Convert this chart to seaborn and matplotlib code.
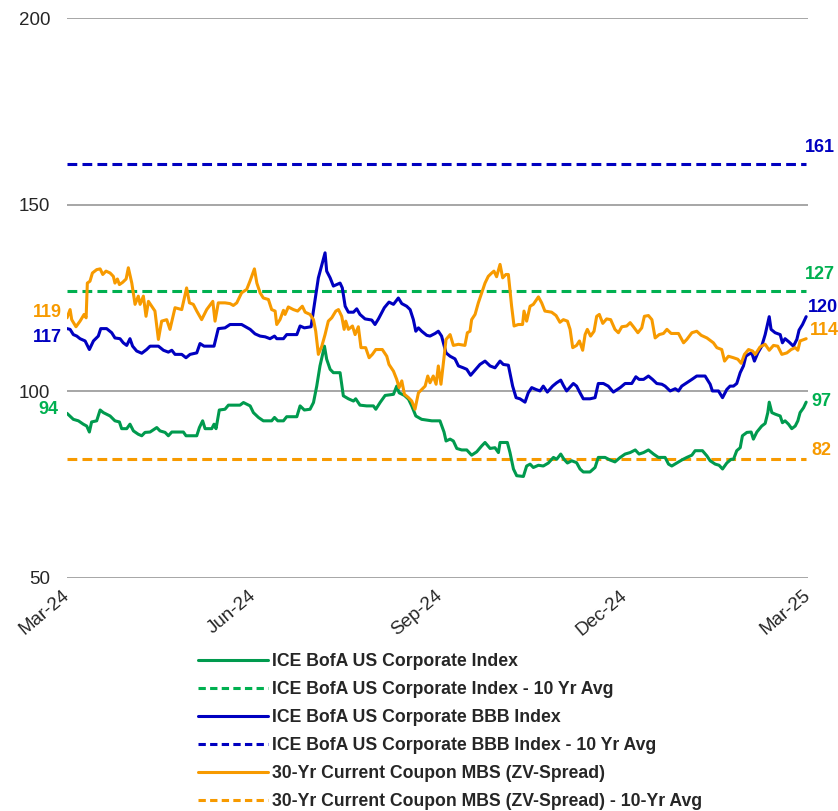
import pandas as pd
import numpy as np
import seaborn as sns
import matplotlib.pyplot as plt
import matplotlib.dates as mdates
from matplotlib.lines import Line2D

# Spread history (bp) as (days since 1-Mar-24, value)
corp_obs = [
    (0, 94.1), (3.1, 92.5), (5.6, 92.1), (8.0, 91.2), (9.7, 90.7), (11.0, 89.1), (12.1, 91.8), (14.6, 92.1), (16.3, 95.0), (17.9, 94.3),
    (21.2, 93.4), (23.6, 92.1), (25.8, 91.8), (26.9, 90.0), (29.4, 90.0), (31.0, 91.2), (32.7, 89.4), (35.1, 88.5), (36.8, 88.1), (38.4, 89.0),
    (40.9, 89.1), (44.2, 90.3), (45.8, 89.4), (48.3, 89.0), (49.9, 88.1), (51.6, 89.1), (57.3, 89.1), (58.6, 88.1), (63.9, 88.1), (65.2, 90.3),
    (66.8, 92.1), (68.0, 90.0), (71.3, 90.0), (72.4, 91.2), (73.4, 90.0), (75.0, 95.0), (77.8, 95.2), (79.5, 96.3), (85.2, 96.3), (86.9, 97.0),
    (90.2, 96.1), (91.8, 94.3), (94.3, 93.0), (96.7, 92.1), (100.8, 92.1), (102.2, 93.0), (103.8, 92.1), (106.6, 92.1), (108.2, 93.2), (113.2, 93.2),
    (114.8, 96.1), (116.9, 95.0), (119.7, 95.2), (121.4, 97.0), (123.0, 101.4), (124.6, 106.8), (126.8, 112.1), (127.9, 108.6), (129.6, 105.9), (131.2, 105.0),
    (134.5, 105.0), (136.1, 98.8), (138.6, 98.0), (141.1, 97.4), (142.2, 98.0), (144.3, 96.3), (147.6, 96.1), (150.9, 96.1), (152.1, 95.2), (154.2, 97.0),
    (156.7, 98.9), (160.8, 99.2), (162.4, 101.4), (163.6, 99.6), (166.2, 98.9), (168.2, 97.9), (169.8, 96.1), (171.8, 93.4), (174.7, 92.5), (179.7, 92.1),
    (183.7, 92.1), (185.7, 89.1), (186.7, 86.7), (188.7, 87.2), (190.3, 86.7), (192.0, 84.7), (194.4, 84.3), (196.9, 84.3), (199.3, 82.9), (201.8, 83.8),
    (204.3, 85.4), (205.9, 86.3), (208.4, 84.7), (210.8, 84.9), (212.5, 83.6), (213.3, 86.3), (216.9, 86.3), (218.2, 83.6), (219.9, 79.2), (221.5, 77.4),
    (224.8, 77.2), (226.4, 80.0), (228.1, 80.5), (229.7, 79.6), (232.2, 80.2), (234.6, 80.0), (237.1, 80.8), (239.6, 82.3), (241.2, 81.8), (243.2, 83.2),
    (244.8, 81.8), (246.5, 80.8), (248.6, 81.4), (251.0, 80.9), (252.7, 79.2), (254.3, 78.4), (257.6, 78.4), (260.1, 79.6), (261.7, 82.3), (265.0, 82.3),
    (267.5, 81.6), (269.9, 81.1), (272.5, 82.3), (274.9, 83.2), (277.4, 83.6), (279.9, 84.3), (281.8, 83.2), (284.0, 83.6), (286.4, 84.3), (288.9, 83.2),
    (291.3, 82.3), (294.6, 82.3), (296.3, 80.5), (297.9, 80.0), (300.4, 80.8), (302.8, 81.6), (305.3, 82.3), (307.8, 82.9), (309.4, 84.1), (313.0, 84.1),
    (315.2, 82.7), (316.8, 81.4), (319.3, 80.5), (321.2, 80.2), (322.9, 79.2), (325.0, 80.8), (327.1, 81.8), (328.3, 81.8), (329.9, 84.1), (331.6, 84.9),
    (332.7, 88.1), (334.9, 89.0), (337.0, 89.1), (338.1, 87.2), (339.8, 89.1), (342.2, 90.7), (343.9, 91.4), (345.2, 94.3), (345.9, 97.1), (347.2, 94.3),
    (348.8, 93.9), (351.3, 93.4), (352.4, 91.6), (353.7, 92.1), (355.4, 91.2), (357.0, 90.0), (358.7, 90.7), (360.0, 92.1), (361.1, 94.3), (362.8, 95.6),
    (364.1, 97.1),
]

bbb_obs = [
    (0, 116.8), (1.5, 116.6), (3.1, 115.2), (4.8, 114.8), (6.4, 114.1), (8.9, 113.5), (11.0, 111.2), (13.0, 113.5), (15.4, 114.8), (16.6, 116.8),
    (19.5, 116.8), (22.0, 115.7), (23.6, 114.3), (26.1, 114.1), (27.7, 113.0), (29.4, 112.3), (31.0, 114.1), (32.3, 112.1), (34.3, 110.8), (36.8, 110.2),
    (39.2, 111.2), (40.9, 112.1), (45.0, 112.1), (47.5, 111.0), (49.9, 110.5), (51.6, 111.0), (53.2, 109.9), (56.5, 109.9), (58.6, 109.0), (60.6, 109.9),
    (63.9, 110.3), (65.5, 112.8), (67.5, 112.1), (72.4, 112.1), (74.5, 116.8), (77.8, 117.0), (80.3, 117.9), (86.0, 117.9), (90.2, 116.6), (92.6, 115.4),
    (95.1, 114.8), (97.6, 114.6), (100.0, 114.1), (102.2, 114.8), (103.3, 114.1), (106.6, 114.1), (108.2, 115.2), (113.2, 115.2), (114.8, 117.5), (116.9, 117.0),
    (120.2, 117.3), (122.2, 124.6), (123.8, 130.4), (125.8, 134.4), (127.1, 137.1), (127.9, 132.2), (129.6, 130.4), (131.2, 128.2), (132.9, 128.6), (134.5, 129.0),
    (135.6, 127.7), (137.0, 122.8), (138.6, 121.2), (141.1, 121.2), (142.7, 122.1), (144.3, 120.6), (146.8, 119.4), (150.1, 119.1), (151.7, 117.9), (153.4, 119.4),
    (156.3, 122.4), (158.6, 123.9), (160.8, 123.3), (163.2, 125.0), (164.9, 123.5), (167.3, 122.8), (169.0, 121.9), (170.6, 119.2), (171.8, 116.1), (173.1, 117.0),
    (174.7, 116.1), (177.2, 115.0), (178.8, 114.8), (181.3, 115.5), (182.9, 116.1), (184.5, 114.8), (186.7, 110.3), (188.7, 109.4), (191.1, 108.7), (192.8, 106.8),
    (195.2, 106.3), (196.9, 105.9), (198.8, 104.3), (201.0, 105.7), (203.4, 107.2), (205.9, 108.1), (208.4, 106.8), (210.8, 106.3), (213.3, 108.1), (214.9, 107.2),
    (217.4, 107.0), (219.5, 101.4), (221.2, 98.3), (223.1, 98.0), (225.6, 97.1), (227.2, 99.6), (228.9, 101.0), (231.0, 100.5), (233.0, 100.1), (234.6, 101.4),
    (236.6, 99.8), (239.2, 101.4), (241.2, 102.3), (243.2, 103.0), (244.5, 101.6), (246.1, 100.1), (249.4, 102.1), (251.0, 101.4), (252.7, 99.6), (254.3, 98.0),
    (257.6, 98.0), (260.1, 98.3), (261.7, 102.1), (264.2, 102.1), (266.6, 101.4), (269.1, 99.8), (272.5, 101.0), (274.9, 102.1), (278.2, 102.1), (280.2, 103.9),
    (281.8, 103.2), (284.0, 103.2), (286.4, 104.1), (288.4, 103.2), (290.5, 102.1), (293.0, 101.9), (294.6, 101.4), (297.1, 100.1), (299.6, 100.7), (301.2, 100.1),
    (302.8, 101.4), (305.3, 102.3), (307.8, 103.2), (310.2, 104.1), (314.3, 104.1), (316.8, 101.9), (317.9, 100.1), (320.9, 100.1), (322.9, 98.3), (325.0, 100.5),
    (326.6, 101.4), (328.3, 101.4), (329.9, 102.1), (331.6, 105.0), (333.2, 106.8), (334.4, 109.4), (335.7, 109.9), (337.3, 110.3), (338.6, 108.1), (340.3, 110.3),
    (342.2, 112.1), (343.9, 115.2), (345.9, 120.0), (346.8, 116.6), (348.8, 115.7), (351.3, 115.2), (352.4, 113.0), (353.7, 114.1), (355.7, 113.2), (357.8, 112.1),
    (359.5, 113.9), (360.6, 116.4), (362.3, 117.9), (364.1, 120.0),
]

mbs_obs = [
    (0, 119.7), (1.5, 121.9), (2.3, 119.2), (4.4, 117.3), (6.4, 118.8), (8.4, 120.6), (9.4, 119.7), (10.0, 129.0), (11.3, 129.5), (12.5, 131.7),
    (14.6, 132.6), (16.3, 132.8), (17.6, 131.3), (19.2, 132.2), (21.2, 131.7), (22.8, 130.8), (23.6, 129.0), (24.8, 130.1), (25.8, 128.6), (27.4, 129.2),
    (29.1, 130.1), (30.2, 133.1), (31.9, 129.0), (33.5, 123.3), (35.1, 125.5), (36.0, 123.3), (37.6, 125.5), (38.9, 120.1), (40.1, 124.1), (41.7, 122.8),
    (43.3, 121.5), (45.0, 113.9), (46.6, 118.8), (49.1, 119.2), (50.7, 116.6), (53.2, 122.4), (56.5, 121.9), (58.9, 127.7), (60.3, 123.7), (62.2, 123.3),
    (63.9, 121.5), (66.3, 119.2), (68.8, 121.9), (71.8, 124.1), (72.9, 118.8), (74.5, 123.7), (77.8, 123.7), (80.3, 123.5), (81.9, 123.0), (83.6, 123.7),
    (86.0, 126.4), (88.5, 127.3), (90.1, 129.5), (92.3, 132.8), (93.5, 129.0), (95.1, 126.4), (96.7, 125.0), (99.2, 124.6), (100.8, 121.9), (102.5, 121.5),
    (103.3, 117.9), (104.9, 119.2), (106.6, 121.7), (107.4, 120.6), (109.0, 122.6), (111.5, 121.9), (113.6, 121.5), (115.9, 122.8), (117.3, 121.2), (119.7, 120.6),
    (121.4, 119.2), (122.5, 116.1), (123.8, 109.9), (125.5, 112.1), (127.1, 115.2), (128.7, 118.8), (130.4, 119.7), (132.4, 121.5), (133.7, 121.9), (135.3, 120.1),
    (136.5, 116.6), (137.3, 118.8), (138.6, 116.6), (140.6, 117.5), (141.9, 115.2), (143.5, 117.3), (144.8, 111.7), (147.1, 111.7), (148.8, 109.0), (150.4, 109.9),
    (152.1, 111.2), (155.3, 111.2), (157.5, 109.4), (158.6, 107.2), (160.8, 105.4), (162.4, 103.2), (163.6, 101.0), (164.9, 102.8), (166.2, 99.2), (168.2, 98.3),
    (169.8, 97.4), (171.4, 95.2), (173.1, 99.6), (176.4, 101.4), (177.7, 104.1), (178.8, 102.3), (180.4, 104.1), (181.8, 101.9), (182.9, 106.8), (184.2, 101.9),
    (185.4, 107.7), (186.7, 113.9), (188.7, 115.2), (190.3, 112.3), (192.8, 112.6), (196.0, 112.3), (197.2, 115.7), (198.5, 116.1), (199.3, 119.2), (201.0, 120.6),
    (202.6, 123.7), (204.3, 126.4), (205.9, 129.0), (207.5, 130.8), (209.2, 131.7), (210.3, 132.2), (211.6, 130.7), (213.3, 134.0), (214.6, 130.4), (216.2, 131.3),
    (217.4, 131.3), (219.0, 122.8), (220.2, 117.5), (222.3, 117.9), (224.4, 117.9), (225.1, 121.5), (226.4, 118.8), (228.1, 122.8), (229.7, 123.3), (232.2, 125.3),
    (233.8, 123.7), (235.4, 121.5), (238.7, 121.2), (240.9, 120.3), (242.8, 118.5), (244.5, 119.2), (246.5, 118.8), (247.8, 116.6), (249.1, 111.7), (251.0, 112.3),
    (252.4, 113.5), (254.0, 111.0), (255.2, 115.2), (256.3, 116.6), (257.9, 114.8), (259.6, 116.1), (260.9, 120.1), (262.2, 120.6), (263.9, 118.2), (265.8, 119.4),
    (267.8, 119.2), (269.9, 116.6), (271.6, 115.7), (273.3, 117.3), (275.7, 117.5), (277.4, 118.4), (279.0, 117.3), (281.2, 115.7), (283.1, 117.0), (284.4, 120.1),
    (286.4, 120.3), (288.1, 119.2), (289.7, 114.3), (291.7, 115.2), (293.8, 115.5), (295.5, 116.6), (297.6, 115.5), (301.2, 115.5), (303.7, 113.0), (305.3, 113.9),
    (307.8, 115.7), (310.2, 116.1), (312.4, 115.0), (315.2, 114.3), (318.4, 113.0), (320.1, 111.7), (322.5, 111.2), (323.9, 108.1), (325.8, 109.4), (328.3, 109.0),
    (330.4, 108.6), (332.1, 107.5), (333.7, 109.9), (335.7, 111.2), (337.7, 110.8), (339.0, 109.9), (341.4, 111.9), (343.9, 112.6), (345.9, 111.0), (348.0, 112.3),
    (350.1, 112.1), (352.1, 109.9), (354.6, 110.3), (356.7, 111.2), (358.7, 111.7), (360.0, 111.0), (361.1, 113.5), (364.1, 114.1),
]

series_names = ['ICE BofA US Corporate Index',
                'ICE BofA US Corporate BBB Index',
                '30-Yr Current Coupon MBS (ZV-Spread)']
avg_names = ['ICE BofA US Corporate Index - 10 Yr Avg',
             'ICE BofA US Corporate BBB Index - 10 Yr Avg',
             '30-Yr Current Coupon MBS (ZV-Spread) - 10-Yr Avg']
ten_yr_avg = [127, 161, 82]
start_labels = [94, 117, 119]
end_labels = [97, 120, 114]
tick_dates = ['2024-03-01', '2024-06-01', '2024-09-01', '2024-12-01', '2025-03-01']

line_colors = ['#009A4E', '#0000C0', '#F79A00']
avg_colors = ['#00B050', '#0000C0', '#F79A00']

start = pd.Timestamp('2024-03-01')


def to_frame(obs):
    d = pd.DataFrame(obs, columns=['day', 'value'])
    d['date'] = start + pd.to_timedelta(d['day'], unit='D')
    return d


frames = [to_frame(o) for o in (corp_obs, bbb_obs, mbs_obs)]

sns.set_style('white')
plt.rcParams['font.family'] = ['Liberation Sans', 'DejaVu Sans']

fig = plt.figure(figsize=(8.38, 8.11), dpi=100)
ax = fig.add_axes([0.080, 0.2873, 0.8842, 0.6905])

first_date = frames[0]['date'].iloc[0]
last_date = frames[0]['date'].iloc[-1]

# 10 yr average reference lines
for avg, c in zip(ten_yr_avg, avg_colors):
    ax.hlines(avg, first_date, last_date, colors=c, linewidth=2.2,
              linestyles=(0, (3.2, 1.7)), zorder=2)

for d, c in zip(frames, line_colors):
    sns.lineplot(x='date', y='value', data=d, color=c, linewidth=2.2, ax=ax, zorder=3)

ax.set_ylim(50, 200)
ax.set_yticks([50, 100, 150, 200])
ax.set_xlim(start, pd.Timestamp(tick_dates[-1]))
ax.set_xticks(pd.to_datetime(tick_dates))
ax.xaxis.set_major_formatter(mdates.DateFormatter('%b-%y'))
ax.grid(axis='y', color='#A6A6A6', linewidth=1.4)
ax.set_axisbelow(True)
for s in ax.spines.values():
    s.set_visible(False)
ax.set_xlabel('')
ax.set_ylabel('')
ax.tick_params(axis='y', length=0, pad=12, labelsize=13.5)
ax.tick_params(axis='x', length=0, pad=11, labelsize=13.5)
for lab in ax.get_xticklabels():
    lab.set_rotation(40)
    lab.set_ha('right')
    lab.set_va('center')
    lab.set_rotation_mode('anchor')

# value labels at the ends of the lines
lbl = dict(fontsize=13, fontweight='bold', textcoords='offset points', va='center')
ax.annotate(str(ten_yr_avg[1]), (last_date, ten_yr_avg[1]), xytext=(-1, 11.5), color=avg_colors[1], ha='left', **lbl)
ax.annotate(str(ten_yr_avg[0]), (last_date, ten_yr_avg[0]), xytext=(-1, 11.5), color=avg_colors[0], ha='left', **lbl)
ax.annotate(str(ten_yr_avg[2]), (last_date, ten_yr_avg[2]), xytext=(4, 5.5), color=avg_colors[2], ha='left', **lbl)
ax.annotate(str(end_labels[1]), (last_date, frames[1]['value'].iloc[-1]), xytext=(1.5, 6.5), color=line_colors[1], ha='left', **lbl)
ax.annotate(str(end_labels[2]), (last_date, frames[2]['value'].iloc[-1]), xytext=(2.5, 6), color=avg_colors[2], ha='left', **lbl)
ax.annotate(str(end_labels[0]), (last_date, frames[0]['value'].iloc[-1]), xytext=(4, 0.5), color=avg_colors[0], ha='left', **lbl)

ax.annotate(str(start_labels[2]), (first_date, frames[2]['value'].iloc[0]), xytext=(-3.5, 3.5), color=avg_colors[2], ha='right', **lbl)
ax.annotate(str(start_labels[1]), (first_date, frames[1]['value'].iloc[0]), xytext=(-3.5, -6.5), color=line_colors[1], ha='right', **lbl)
ax.annotate(str(start_labels[0]), (first_date, frames[0]['value'].iloc[0]), xytext=(-6, 2.5), color=avg_colors[0], ha='right', **lbl)

handles = []
labels = []
for i in range(3):
    handles.append(Line2D([], [], color=line_colors[i], linewidth=2.2))
    labels.append(series_names[i])
    handles.append(Line2D([], [], color=avg_colors[i], linewidth=2.2, linestyle=(0, (2.4, 1.4))))
    labels.append(avg_names[i])

fig.legend(handles, labels, loc='upper left', bbox_to_anchor=(0.236, 0.1945), frameon=False,
           prop={'size': 12.7, 'weight': 'bold'}, handlelength=4.0, handletextpad=0.22,
           labelspacing=0.62, borderaxespad=0, borderpad=0)

plt.savefig('out.png', dpi=100)
